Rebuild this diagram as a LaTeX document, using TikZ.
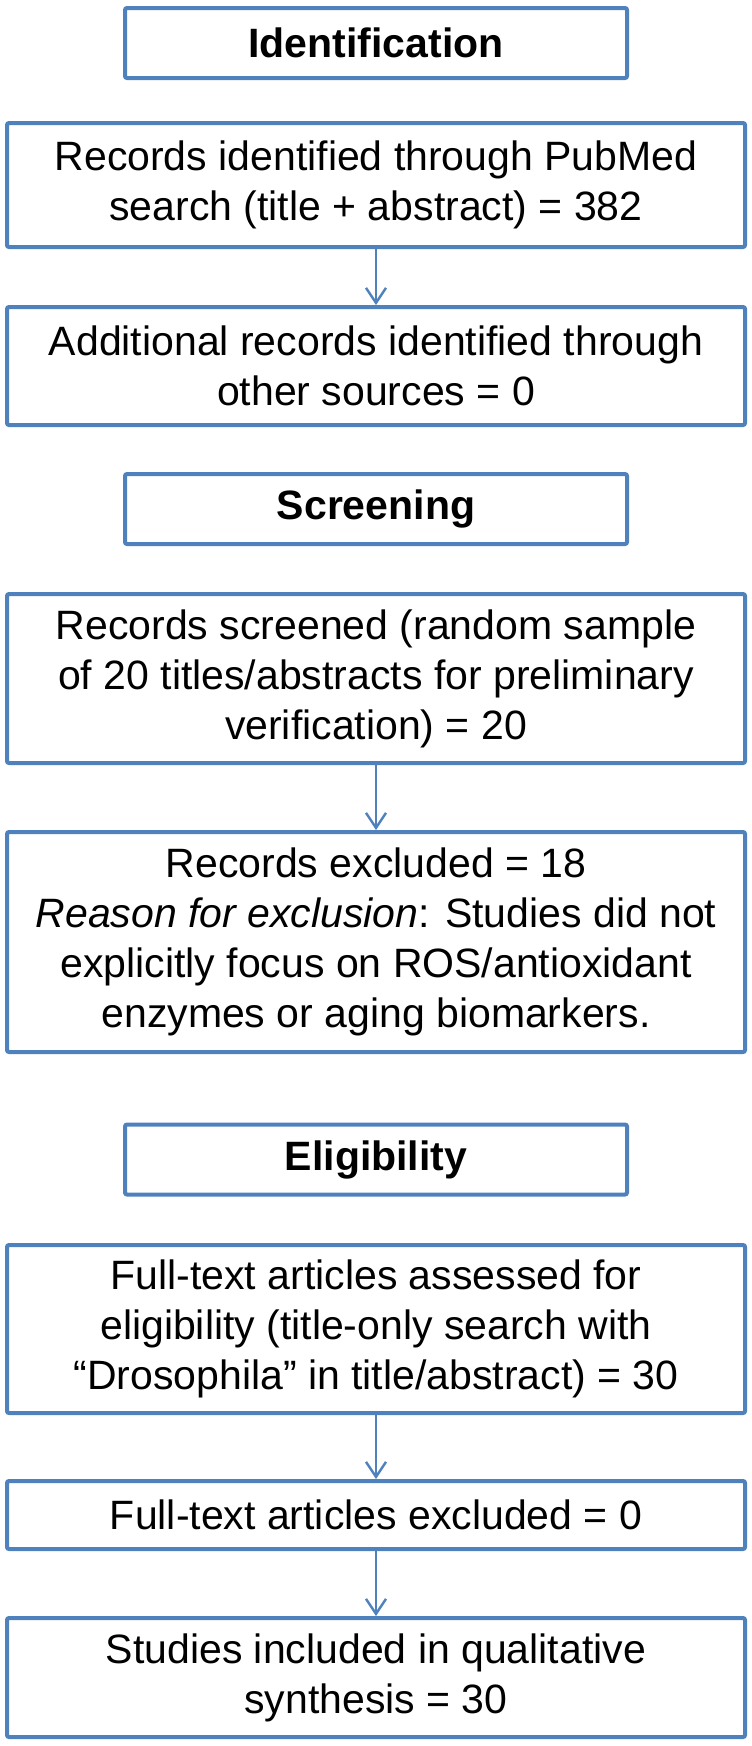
\documentclass[tikz,border=0pt]{standalone}
\usepackage{fontspec}
\setmainfont{Liberation Sans}
\usetikzlibrary{arrows.meta}
\definecolor{boxblue}{RGB}{79,129,189}

\begin{document}
\begin{tikzpicture}[x=0.5pt,y=-0.5pt,
    every node/.style={font=\fontsize{20.5}{25}\selectfont, align=center, inner sep=0pt},
    stage/.style={draw=boxblue, line width=2pt, rounded corners=1pt, minimum width=251pt, minimum height=35pt, font=\fontsize{20.5}{25}\selectfont\bfseries},
    record/.style={draw=boxblue, line width=2pt, rounded corners=1pt, minimum width=369pt},
    flow/.style={draw=boxblue, line width=1.2pt, -{Straight Barb[length=7.5pt,width=10pt]}}]
  \useasboundingbox (0,0) rectangle (751,1746);

  % identification
  \node[stage] (ident) at (376,43) {Identification};
  \node[record, minimum height=62pt] (rec) at (376,185) {Records identified through PubMed\\search (title + abstract) = 382};
  \node[record, minimum height=59pt] (add) at (376,366) {Additional records identified through\\other sources = 0};

  % screening
  \node[stage] (screen) at (376,509) {Screening};
  \node[record, minimum height=84.5pt] (scr) at (376,678.5) {Records screened (random sample\\of 20 titles/abstracts for preliminary\\verification) = 20};
  \node[record, minimum height=110pt] (exc) at (376,942) {Records excluded = 18\\\textit{Reason for exclusion}: Studies did not\\explicitly focus on ROS/antioxidant\\enzymes or aging biomarkers.};

  % eligibility
  \node[stage] (elig) at (376,1159.5) {Eligibility};
  \node[record, minimum height=84pt] (full) at (376,1329) {Full-text articles assessed for\\eligibility (title-only search with\\“Drosophila” in title/abstract) = 30};
  \node[record, minimum height=34pt] (fexc) at (376,1515) {Full-text articles excluded = 0};
  \node[record, minimum height=59.5pt] (incl) at (376,1677.5) {Studies included in qualitative\\synthesis = 30};

  % arrows between boxes
  \foreach \a/\b in {rec/add, scr/exc, full/fexc, fexc/incl} {
    \draw[flow] (\a) -- (\b);
  }
\end{tikzpicture}
\end{document}
